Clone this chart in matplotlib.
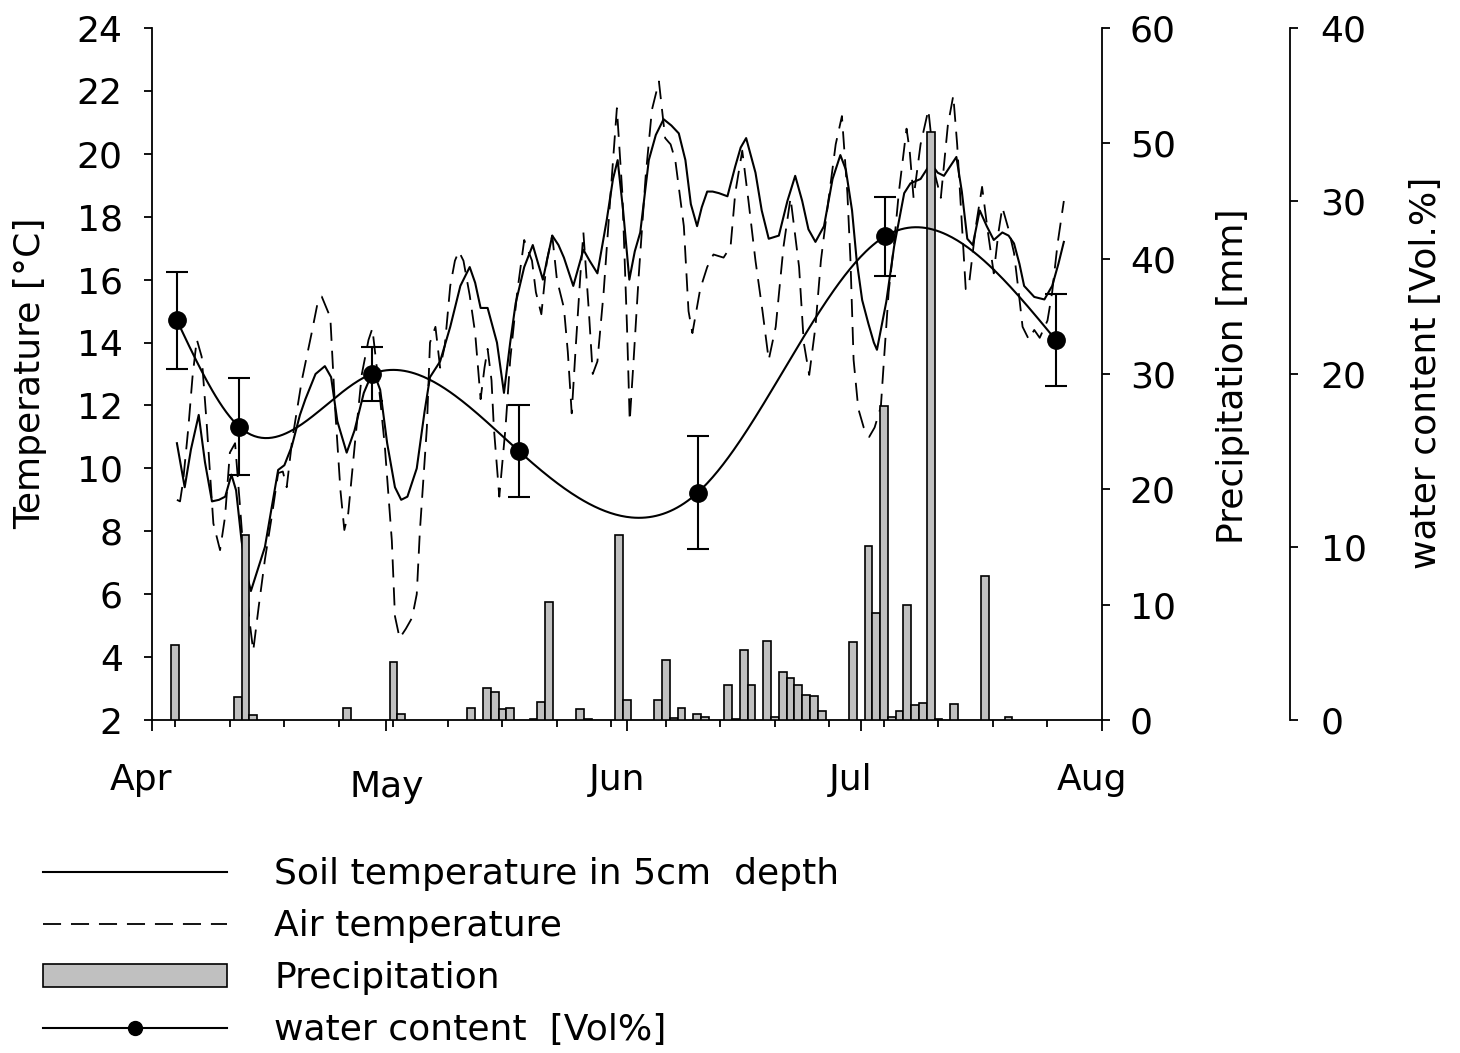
import numpy as np
import matplotlib
matplotlib.use('Agg')
import matplotlib.pyplot as plt
import matplotlib.transforms as mtransforms
from matplotlib.lines import Line2D
from matplotlib.patches import Patch

plt.rcParams['font.family'] = ['DejaVu Sans']
plt.rcParams['font.size'] = 26

# ---------------- data (day index: 0 = 1 April) ----------------
month_days = [0, 30, 61, 91, 122]
month_labels = ['Apr', 'May', 'Jun', 'Jul', 'Aug']
week_days = list(range(3, 120, 7))

soil_day = [3.2, 4.2, 5.0, 6.0, 6.8, 7.7, 8.6, 9.4, 10.2, 10.8, 11.5, 12.2, 12.7, 13.6, 14.5, 15.4,
            16.2, 17.0, 17.95, 19.0, 19.7, 21.0, 22.2, 23.0, 23.8, 25.0, 26.0, 27.2, 28.4, 29.3,
            30.2, 31.2, 32.0, 32.8, 34.0, 35.0, 35.7, 37.0, 38.3, 39.6, 40.8, 41.5, 42.2, 43.1,
            44.3, 45.2, 46.0, 46.7, 47.8, 48.9, 49.6, 50.2, 51.4, 52.2, 52.9, 54.1, 55.4, 56.2,
            57.2, 58.4, 59.2, 59.8, 60.5, 61.3, 62.0, 62.7, 63.8, 64.7, 65.7, 66.7, 67.65, 68.5,
            69.2, 70.0, 70.6, 71.3, 72.0, 72.8, 73.9, 74.9, 75.6, 76.3, 77.5, 78.3, 79.2, 80.5,
            81.6, 82.6, 83.5, 84.3, 85.2, 86.3, 87.4, 88.4, 89.1, 89.9, 90.5, 91.2, 92.0, 92.7,
            93.1, 94.3, 95.3, 96.6, 97.4, 98.7, 100.0, 100.9, 101.7, 102.5, 103.3, 104.0, 104.7,
            105.4, 106.3, 107.2, 108.1, 109.2, 110.0, 110.7, 111.4, 112.0, 113.3, 114.6, 115.6,
            116.4, 117.1]
soil_temp = [10.8, 9.4, 10.6, 11.7, 10.2, 8.95, 9.0, 9.1, 9.8, 9.3, 7.7, 6.6, 6.1, 6.8, 7.5, 8.8,
             9.95, 10.1, 10.7, 11.7, 12.2, 13.0, 13.25, 12.9, 11.5, 10.5, 11.2, 12.4, 13.1, 12.5,
             10.8, 9.4, 9.0, 9.1, 10.0, 11.8, 12.9, 13.4, 14.5, 15.8, 16.4, 15.9, 15.1, 15.1,
             14.0, 12.4, 14.0, 15.25, 16.4, 17.1, 16.5, 16.0, 17.4, 17.1, 16.7, 15.8, 16.95, 16.6,
             16.2, 17.9, 19.2, 19.8, 18.2, 16.0, 16.9, 17.5, 19.8, 20.6, 21.1, 20.9, 20.65, 19.8,
             18.4, 17.7, 18.3, 18.8, 18.8, 18.75, 18.65, 19.6, 20.2, 20.5, 19.4, 18.2, 17.3, 17.4,
             18.5, 19.3, 18.5, 17.6, 17.2, 17.7, 19.2, 19.96, 19.5, 18.2, 16.6, 15.35, 14.6, 14.0,
             13.77, 15.3, 17.05, 18.75, 19.06, 19.2, 19.7, 19.4, 19.3, 19.6, 19.9, 18.8, 17.3,
             17.1, 18.2, 17.7, 17.26, 17.5, 17.4, 17.15, 16.5, 15.8, 15.45, 15.37, 15.8,
             16.5, 17.2]

air_day = [3.2, 3.6, 4.0, 4.67, 5.2, 5.75, 6.38, 7.03, 7.88, 8.74,
           9.38, 10.0, 10.67, 11.3, 12.0, 12.5, 13.0, 13.7, 14.5, 15.4,
           16.2, 16.8, 17.3, 18.0, 19.24, 20.5, 21.3, 21.8, 22.9, 23.5,
           24.2, 24.7, 25.2, 26.1, 26.95, 27.8, 28.3, 29.1, 29.9, 30.8,
           31.2, 31.8, 32.6, 33.4, 34.0, 34.4, 35.3, 35.7, 36.4, 37.0,
           37.6, 38.3, 38.9, 39.4, 40.0, 40.8, 41.5, 42.2, 42.7, 43.1,
           43.6, 43.9, 44.6, 45.4, 46.0, 46.9, 47.8, 48.8, 49.3, 50.0,
           50.7, 51.4, 52.0, 52.9, 53.4, 53.9, 54.4, 55.0, 55.4, 56.1,
           56.6, 57.2, 58.0, 58.9, 59.7, 60.4, 61.0, 61.35, 61.85, 62.5,
           63.4, 64.2, 65.1, 65.9, 66.6, 67.2, 68.3, 68.9, 69.4, 70.4,
           71.3, 72.1, 73.4, 74.3, 74.9, 75.8, 76.6, 77.5, 78.4, 79.2,
           80.1, 81.1, 82.0, 83.1, 83.7, 84.4, 85.2, 85.9, 86.7, 87.8,
           88.6, 89.3, 89.7, 90.1, 90.7, 91.4, 92.1, 92.8, 93.6, 94.0,
           94.6, 95.3, 95.9, 96.6, 96.9, 97.3, 97.8, 98.7, 99.7, 100.6,
           101.3, 102.2, 102.9, 103.4, 103.9, 104.5, 104.9, 105.8, 106.6, 107.3,
           108.1, 108.7, 109.2, 110.0, 110.7, 111.3, 111.8, 112.6, 113.3, 114.0,
           115.0, 115.6, 116.3, 117.1]
air_temp = [9.0, 8.95, 9.6, 11.3, 12.9, 14.1, 13.55, 11.4, 8.25, 7.4,
            8.46, 10.5, 10.8, 8.8, 6.5, 5.2, 4.2, 5.6, 7.1, 8.5,
            9.85, 9.9, 9.4, 10.9, 12.8, 14.3, 15.3, 15.46, 14.8, 11.96,
            9.3, 8.04, 8.57, 10.9, 13.0, 14.08, 14.45, 12.7, 10.7, 7.7,
            5.3, 4.6, 4.9, 5.25, 6.0, 8.0, 11.3, 14.0, 14.5, 13.2,
            13.9, 15.8, 16.6, 16.9, 16.6, 15.5, 14.3, 12.2, 13.2, 13.8,
            12.8, 11.3, 9.1, 11.3, 13.45, 15.6, 17.26, 16.6, 15.6, 14.9,
            16.6, 17.4, 16.0, 15.1, 13.7, 11.75, 13.8, 16.1, 17.5, 15.0,
            13.0, 13.4, 15.6, 18.75, 21.45, 18.75, 14.5, 11.5, 13.45, 16.1,
            19.3, 21.4, 22.3, 20.5, 20.3, 19.8, 17.7, 15.0, 14.3, 15.7,
            16.4, 16.8, 16.7, 17.05, 18.75, 20.1, 18.5, 16.6, 15.0, 13.45,
            14.5, 17.05, 18.6, 16.4, 14.0, 12.97, 14.5, 16.6, 18.2, 20.3,
            21.2, 18.75, 16.6, 13.45, 11.9, 11.3, 11.0, 11.3, 11.96, 13.45,
            15.6, 17.15, 18.75, 20.2, 20.8, 20.1, 18.6, 20.3, 21.4, 19.3,
            18.6, 20.9, 21.85, 20.3, 18.2, 15.7, 15.8, 17.7, 18.95, 17.6,
            16.2, 17.5, 18.3, 17.6, 16.85, 15.6, 14.5, 14.1, 14.4, 14.15,
            14.7, 15.6, 17.15, 18.5]

precip_day = [3, 11, 12, 13, 25, 31, 32, 41, 43, 44,
              45, 46, 49, 50, 51, 55, 56, 60, 61, 65,
              66, 67, 68, 70, 71, 74, 75, 76, 77, 79,
              80, 81, 82, 83, 84, 85, 86, 90, 92, 93,
              94, 95, 96, 97, 98, 99, 100, 101, 103, 107,
              110]
precip_mm = [6.5, 2.0, 16.0, 0.45, 1.0, 5.05, 0.55, 1.05, 2.75, 2.45,
             0.95, 1.05, 0.1, 1.55, 10.2, 0.95, 0.1, 16.0, 1.75, 1.75,
             5.2, 0.15, 1.05, 0.55, 0.3, 3.0, 0.1, 6.1, 3.05, 6.85,
             0.25, 4.2, 3.65, 3.05, 2.15, 2.05, 0.8, 6.75, 15.1, 9.3,
             27.2, 0.3, 0.8, 10.0, 1.3, 1.45, 51.0, 0.1, 1.35, 12.5,
             0.25]

wc_day = [3.2, 11.2, 28.2, 47.1, 70.1, 94.1, 116.1]
wc_vol = [23.1, 16.95, 20.0, 15.55, 13.15, 27.95, 21.95]
wc_err = [2.8, 2.8, 1.55, 2.65, 3.25, 2.3, 2.65]

legend_labels = ['Soil temperature in 5cm  depth', 'Air temperature',
                 'Precipitation', 'water content  [Vol%]']


def natural_spline(x, y, xs):
    x = np.asarray(x, float)
    y = np.asarray(y, float)
    n = len(x)
    h = np.diff(x)
    A = np.zeros((n, n))
    r = np.zeros(n)
    A[0, 0] = A[-1, -1] = 1.0
    for i in range(1, n - 1):
        A[i, i - 1] = h[i - 1]
        A[i, i] = 2 * (h[i - 1] + h[i])
        A[i, i + 1] = h[i]
        r[i] = 3 * ((y[i + 1] - y[i]) / h[i] - (y[i] - y[i - 1]) / h[i - 1])
    c = np.linalg.solve(A, r)
    b = (y[1:] - y[:-1]) / h - h * (2 * c[:-1] + c[1:]) / 3
    d = (c[1:] - c[:-1]) / (3 * h)
    idx = np.clip(np.searchsorted(x, xs) - 1, 0, n - 2)
    t = xs - x[idx]
    return y[idx] + b[idx] * t + c[idx] * t ** 2 + d[idx] * t ** 3


W, H = 1460, 1053
fig = plt.figure(figsize=(W / 100, H / 100), dpi=100)
ax = fig.add_axes([152 / W, 1 - 720 / H, 950 / W, 692 / H])
axp = ax.twinx()
axw = ax.twinx()
axw.spines['right'].set_position(('axes', 1138 / 950))

LW = 1.5
DASH = (0, (10, 5.5))

# temperature lines
ax.plot(soil_day, soil_temp, color='k', lw=LW, solid_joinstyle='round')
ax.plot(air_day, air_temp, color='k', lw=1.3, ls=DASH)

# precipitation bars
axp.bar(precip_day, precip_mm, width=1.0, color='#c0c0c0', edgecolor='k', linewidth=1.2)

# water content
xs = np.linspace(wc_day[0], wc_day[-1], 500)
axw.plot(xs, natural_spline(wc_day, wc_vol, xs), color='k', lw=LW)
axw.errorbar(wc_day, wc_vol, yerr=wc_err, fmt='o', color='k', ms=12.5,
             capsize=7.6, elinewidth=LW, capthick=LW)

# limits and ticks
ax.set_xlim(0, 122)
ax.set_ylim(2, 24)
axp.set_ylim(0, 60)
axw.set_ylim(0, 40)
ax.set_yticks(range(2, 25, 2))
axp.set_yticks(range(0, 61, 10))
axw.set_yticks(range(0, 41, 10))
ax.set_xticks(month_days)
ax.set_xticklabels([''] * len(month_days))
ax.set_xticks(week_days, minor=True)

for a in (ax, axp, axw):
    for s in a.spines.values():
        s.set_linewidth(1.3)
ax.spines['top'].set_visible(False)
ax.spines['right'].set_visible(False)
for a in (axp, axw):
    a.spines['top'].set_visible(False)
    a.spines['left'].set_visible(False)
    a.spines['bottom'].set_visible(False)

ax.tick_params(axis='x', which='major', length=7.7, width=1.3, direction='out')
ax.tick_params(axis='x', which='minor', length=4.8, width=1.3, direction='out')
ax.tick_params(axis='y', length=6, width=1.3, direction='out', pad=15, labelsize=26)
axp.tick_params(axis='y', length=6, width=1.3, direction='out', pad=14, labelsize=26)
axw.tick_params(axis='y', length=6, width=1.3, direction='out', pad=16, labelsize=26)

# month labels
base = mtransforms.blended_transform_factory(ax.transData, ax.transAxes)
label_off = {'Apr': (-11, -70), 'May': (1, -77), 'Jun': (-10, -70), 'Jul': (-10, -70), 'Aug': (-10, -70)}
for d, lab in zip(month_days, month_labels):
    dx, dy = label_off[lab]
    tr = mtransforms.offset_copy(base, fig=fig, x=dx, y=dy, units='dots')
    ax.text(d, 0, lab, transform=tr, ha='center', va='baseline', fontsize=26)

# axis labels
ax.set_ylabel('Temperature [°C]', fontsize=26)
ax.yaxis.label.set_va('center')
ax.yaxis.label.set_ha('center')
ax.yaxis.set_label_coords((30 - 152) / 950, (720 - 373) / 692)
axp.set_ylabel('Precipitation [mm]', fontsize=26)
axp.yaxis.label.set_va('center')
axp.yaxis.label.set_ha('center')
axp.yaxis.label.set_rotation(90)
axp.yaxis.set_label_coords((1233 - 152) / 950, (720 - 376) / 692)
axw.set_ylabel('water content [Vol.%]', fontsize=26)
axw.yaxis.label.set_va('center')
axw.yaxis.label.set_ha('center')
axw.yaxis.label.set_rotation(90)
axw.yaxis.set_label_coords((1426 - 152) / 950, (720 - 373) / 692)

# legend
handles = [Line2D([], [], color='k', lw=LW),
           Line2D([], [], color='k', lw=1.3, ls=DASH),
           Patch(facecolor='#c0c0c0', edgecolor='k', linewidth=1.2),
           Line2D([], [], color='k', lw=LW, marker='o', ms=10)]
fig.legend(handles, legend_labels, loc='upper left',
           bbox_to_anchor=(43 / W, 1 - 857 / H), frameon=False, fontsize=26,
           handlelength=5.1, handletextpad=1.3, labelspacing=0.50,
           borderpad=0, borderaxespad=0, handleheight=0.6)

fig.savefig('out.png', dpi=100)
